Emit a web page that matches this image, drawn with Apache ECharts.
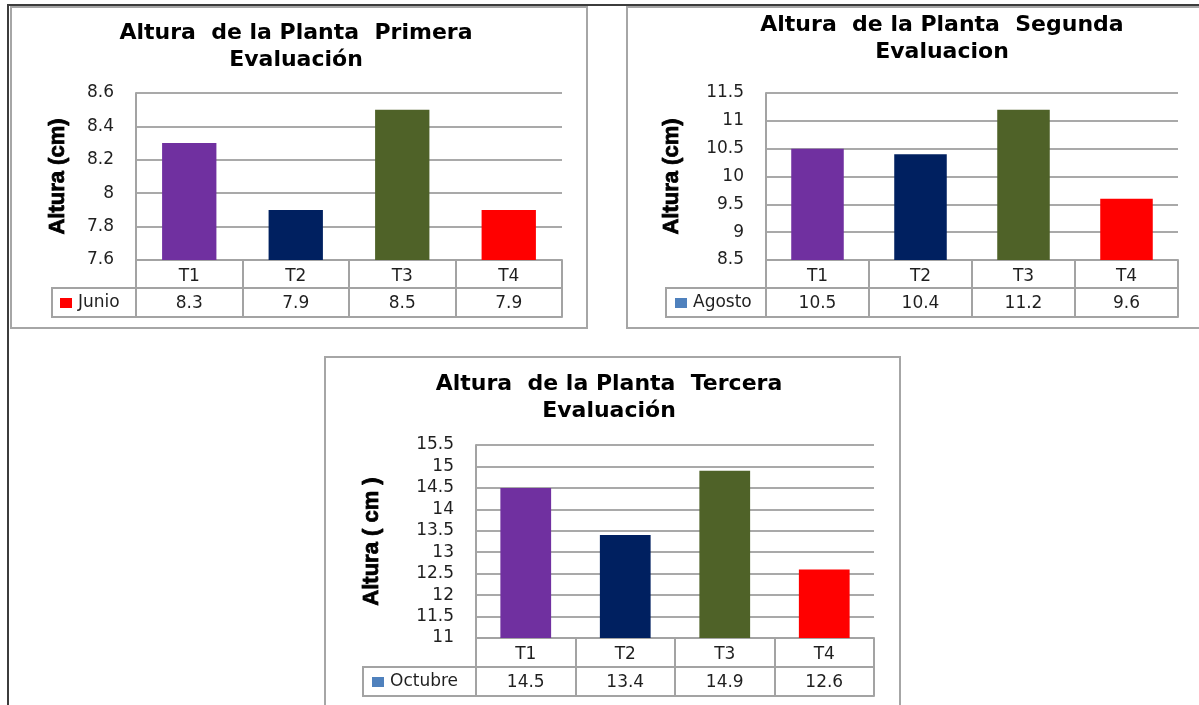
<!DOCTYPE html>
<html>
<head>
<meta charset="utf-8">
<script src="https://cdn.jsdelivr.net/npm/echarts@6/dist/echarts.min.js"></script>
<style>
html,body{margin:0;padding:0;background:#fff;}
#main{width:1199px;height:705px;}
</style>
</head>
<body>
<div id="main"></div>
<script>
// ---- data ----
const categories = ['T1', 'T2', 'T3', 'T4'];
const junio = [8.3, 7.9, 8.5, 7.9];
const agosto = [10.5, 10.4, 11.2, 9.6];
const octubre = [14.5, 13.4, 14.9, 12.6];
const seriesNames = ['Junio', 'Agosto', 'Octubre'];
const titles = [
  'Altura  de la Planta  Primera\nEvaluación',
  'Altura  de la Planta  Segunda\nEvaluacion',
  'Altura  de la Planta  Tercera\nEvaluación'
];
const axisNames = ['Altura (cm)', 'Altura (cm)', 'Altura ( cm )'];
const yMin = [7.6, 8.5, 11];
const yMax = [8.6, 11.5, 15.5];
const yStep = [0.2, 0.5, 0.5];

// ---- styling / layout ----
const barColors = ['#7030A0', '#002060', '#4F6228', '#FF0000'];
const legendColors = ['#FF0000', '#4F81BD', '#4F81BD'];
const values = [junio, agosto, octubre];
const tableColor = '#a3a3a3';
const gridColor = '#8c8c8c';
const textColor = '#1f1f1f';
const smallFont = 'DejaVu Sans';

const L = [
  {grid: {left: 136, top: 93, width: 426, height: 167}, row: 28, row2: 57,
   cell: {left: 52, width: 84}, nameGap: 67, titleX: 296, titleY: 20, legX: 60},
  {grid: {left: 766, top: 93, width: 412, height: 167}, row: 28, row2: 57,
   cell: {left: 666, width: 100}, nameGap: 83, titleX: 942, titleY: 12, legX: 675},
  {grid: {left: 476, top: 445, width: 398, height: 193}, row: 29, row2: 58,
   cell: {left: 363, width: 113}, nameGap: 93, titleX: 609, titleY: 371, legX: 372}
];

const option = {
  backgroundColor: '#fff',
  animation: false,
  title: [], grid: [], xAxis: [], yAxis: [], series: [], legend: [],
  graphic: []
};

for (let i = 0; i < 3; i++) {
  const l = L[i];
  const g = l.grid;
  option.title.push({
    text: titles[i], left: l.titleX, top: l.titleY, textAlign: 'center', padding: 0,
    textStyle: {fontFamily: 'DejaVu Sans', fontWeight: 'bold', fontSize: 22, lineHeight: 27, color: '#000'}
  });
  option.grid.push(Object.assign({outerBoundsMode: 'none', containLabel: false}, g));
  // plot axes
  option.xAxis.push({
    gridIndex: i, type: 'category', data: categories, position: 'bottom',
    axisLine: {show: true, lineStyle: {color: tableColor, width: 2}},
    axisTick: {show: true, interval: 0, alignWithLabel: false, length: l.row2, lineStyle: {color: tableColor, width: 2}},
    axisLabel: {interval: 0, margin: 8, fontSize: 17, fontFamily: smallFont, color: textColor},
    splitLine: {show: false}
  });
  option.xAxis.push({
    gridIndex: i, type: 'category', data: values[i].map(String), position: 'bottom', offset: l.row,
    axisLine: {show: true, lineStyle: {color: tableColor, width: 2}},
    axisTick: {show: false},
    axisLabel: {interval: 0, margin: 7, fontSize: 17, fontFamily: smallFont, color: textColor},
    splitLine: {show: false}
  });
  option.xAxis.push({
    gridIndex: i, type: 'category', data: categories, position: 'bottom', offset: l.row2,
    axisLine: {show: true, lineStyle: {color: tableColor, width: 2}},
    axisTick: {show: false}, axisLabel: {show: false}, splitLine: {show: false}
  });
  option.yAxis.push({
    gridIndex: i, type: 'value', min: yMin[i], max: yMax[i], interval: yStep[i],
    axisLine: {show: true, lineStyle: {color: tableColor, width: 2}},
    axisTick: {show: false},
    splitLine: {show: true, lineStyle: {color: gridColor, width: 1.5}},
    axisLabel: {margin: 22, fontSize: 17, fontFamily: smallFont, color: textColor, padding: [7, 0, 0, 0]},
    name: axisNames[i], nameLocation: 'middle', nameRotate: 90, nameGap: l.nameGap,
    nameMoveOverlap: false,
    nameTextStyle: {fontFamily: "'Liberation Sans', Arial, sans-serif", fontWeight: 'bold', fontSize: 22, color: '#000',
      textBorderColor: '#000', textBorderWidth: 0.8}
  });
  option.series.push({
    type: 'bar', name: seriesNames[i], xAxisIndex: i * 3, yAxisIndex: i,
    data: values[i], barWidth: '51%',
    itemStyle: {color: function (p) { return barColors[p.dataIndex]; }}
  });
  option.legend.push({
    data: [{name: seriesNames[i], icon: 'rect', itemStyle: {color: legendColors[i]}}],
    left: l.legX, top: g.top + g.height + l.row + (l.row2 - l.row) / 2 - 8,
    padding: 0, itemWidth: 12, itemHeight: 10, selectedMode: false,
    textStyle: {fontSize: 17, fontFamily: smallFont, color: textColor, padding: [4, 0, 0, 1]}
  });
}
// legend cells (extra grids, indices 3..5, no axes)
for (let i = 0; i < 3; i++) {
  const l = L[i];
  const g = l.grid;
  option.grid.push({
    outerBoundsMode: 'none', show: true, left: l.cell.left, width: l.cell.width,
    top: g.top + g.height + l.row, height: l.row2 - l.row,
    borderColor: tableColor, borderWidth: 2, backgroundColor: 'transparent'
  });
}

// chart frames
option.graphic.push(
  {type: 'rect', shape: {x: 11, y: 7, width: 576, height: 321}, style: {fill: 'none', stroke: '#a6a6a6', lineWidth: 2}, silent: true},
  {type: 'rect', shape: {x: 627, y: 7, width: 700, height: 321}, style: {fill: 'none', stroke: '#a6a6a6', lineWidth: 2}, silent: true},
  {type: 'rect', shape: {x: 325, y: 357, width: 575, height: 400}, style: {fill: 'none', stroke: '#a6a6a6', lineWidth: 2}, silent: true},
  {type: 'polyline', shape: {points: [[8, 720], [8, 5], [1210, 5]]}, style: {fill: 'none', stroke: '#3c3c3c', lineWidth: 2}, silent: true}
);

const chart = echarts.init(document.getElementById('main'), null, {renderer: 'canvas'});
chart.setOption(option);
</script>
</body>
</html>
